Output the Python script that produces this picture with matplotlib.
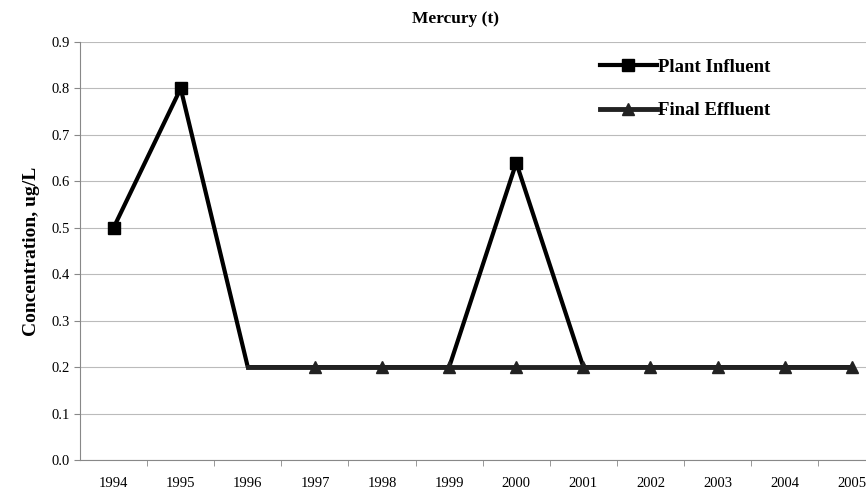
import matplotlib.pyplot as plt

# Mercury concentrations by year
years = [1994, 1995, 1996, 1997, 1998, 1999, 2000, 2001, 2002, 2003, 2004, 2005]
plant_influent = [0.5, 0.8, 0.2, 0.2, 0.2, 0.2, 0.64, 0.2, 0.2, 0.2, 0.2, 0.2]
final_effluent = [None, None, 0.2, 0.2, 0.2, 0.2, 0.2, 0.2, 0.2, 0.2, 0.2, 0.2]
y_ticks = [0.0, 0.1, 0.2, 0.3, 0.4, 0.5, 0.6, 0.7, 0.8, 0.9]

plt.rcParams['font.family'] = ['Liberation Serif', 'DejaVu Serif']

fig = plt.figure(figsize=(8.66, 4.91), dpi=100)
ax = fig.add_axes([0.0924, 0.0631, 0.93, 0.8513])

eff = [v if v is not None else float('nan') for v in final_effluent]
# squares only show where influent is above the effluent line
ax.plot(years, plant_influent, color='black', lw=3, marker='s', markersize=9,
        markevery=[0, 1, 6], label='Plant Influent', zorder=3)
ax.plot(years, eff, color='#222222', lw=3.5, marker='^', markersize=9,
        markevery=list(range(3, 12)), label='Final Effluent', zorder=4)

ax.set_xlim(1993.5, 2005.5)
ax.set_ylim(0, 0.9)
ax.set_yticks(y_ticks)
ax.set_yticklabels([f'{t:.1f}' for t in y_ticks], fontsize=10.5)
ax.set_xticks(years)
ax.set_xticklabels([str(y) for y in years], fontsize=10.5)
ax.set_xticks([y + 0.5 for y in years[:-1]], minor=True)
ax.tick_params(axis='x', which='major', length=0, pad=12)
ax.tick_params(axis='x', which='minor', length=4, color='#888888')
ax.tick_params(axis='y', length=4, color='#888888')

ax.grid(axis='y', color='#bbbbbb', lw=0.8)
ax.set_axisbelow(True)
for side in ['top', 'right']:
    ax.spines[side].set_visible(False)
ax.spines['left'].set_color('#888888')
ax.spines['bottom'].set_color('#888888')

ax.set_title('Mercury (t)', fontsize=12.5, fontweight='bold', pad=14, x=0.466)
ax.set_ylabel('Concentration, ug/L', fontsize=14, fontweight='bold', labelpad=8)

ax.legend(loc='upper left', bbox_to_anchor=(0.625, 1.0), frameon=False,
          prop={'weight': 'bold', 'size': 13.5}, handlelength=3.0,
          handletextpad=0.1, labelspacing=1.4)

fig.savefig('out.png', dpi=100)
